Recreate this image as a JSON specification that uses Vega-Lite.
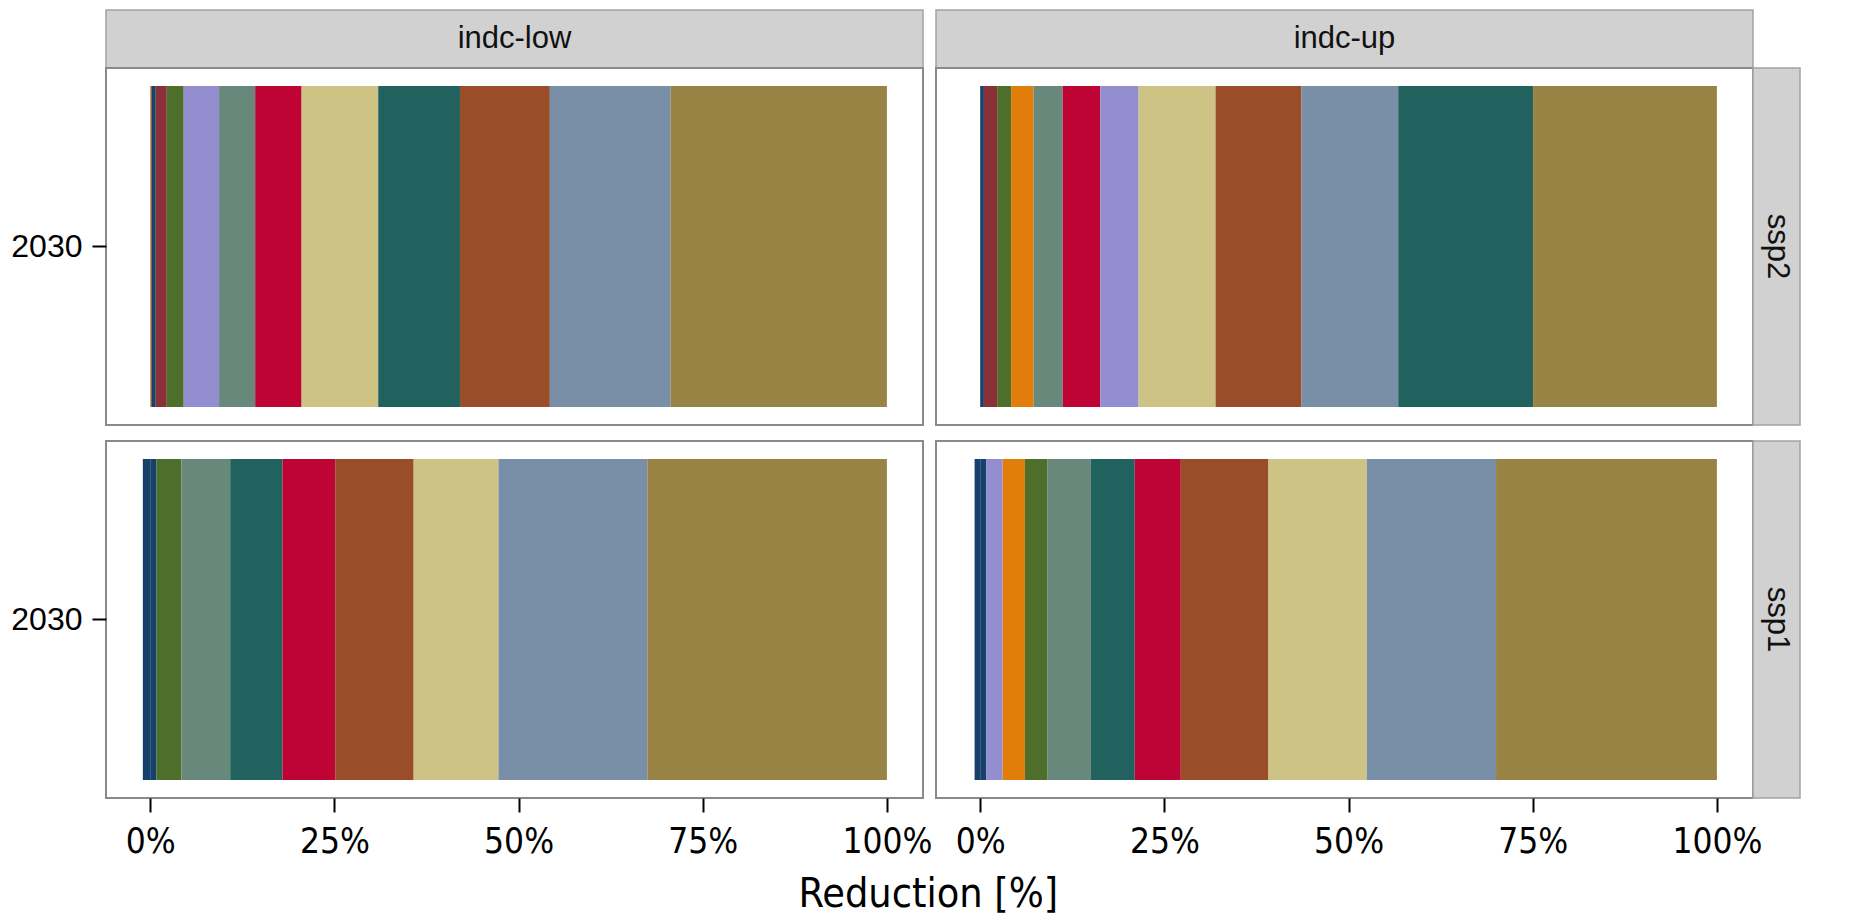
{
  "$schema": "https://vega.github.io/schema/vega-lite/v6.json",
  "background": "white",
  "padding": {"left": 9, "top": 9, "right": 4, "bottom": 4},
  "datasets": {
    "shares": [
      {"scenario": "indc-low", "ssp": "ssp2", "year": "2030", "sector": "s12", "share": 0.15},
      {"scenario": "indc-low", "ssp": "ssp2", "year": "2030", "sector": "s1", "share": 0.6},
      {"scenario": "indc-low", "ssp": "ssp2", "year": "2030", "sector": "s2", "share": 1.5},
      {"scenario": "indc-low", "ssp": "ssp2", "year": "2030", "sector": "s3", "share": 2.3},
      {"scenario": "indc-low", "ssp": "ssp2", "year": "2030", "sector": "s4", "share": 4.8},
      {"scenario": "indc-low", "ssp": "ssp2", "year": "2030", "sector": "s5", "share": 4.9},
      {"scenario": "indc-low", "ssp": "ssp2", "year": "2030", "sector": "s6", "share": 6.3},
      {"scenario": "indc-low", "ssp": "ssp2", "year": "2030", "sector": "s7", "share": 10.4},
      {"scenario": "indc-low", "ssp": "ssp2", "year": "2030", "sector": "s8", "share": 11.1},
      {"scenario": "indc-low", "ssp": "ssp2", "year": "2030", "sector": "s9", "share": 12.2},
      {"scenario": "indc-low", "ssp": "ssp2", "year": "2030", "sector": "s10", "share": 16.4},
      {"scenario": "indc-low", "ssp": "ssp2", "year": "2030", "sector": "s11", "share": 29.35},

      {"scenario": "indc-up", "ssp": "ssp2", "year": "2030", "sector": "s1", "share": 0.5},
      {"scenario": "indc-up", "ssp": "ssp2", "year": "2030", "sector": "s2", "share": 1.8},
      {"scenario": "indc-up", "ssp": "ssp2", "year": "2030", "sector": "s3", "share": 1.9},
      {"scenario": "indc-up", "ssp": "ssp2", "year": "2030", "sector": "s12", "share": 3.05},
      {"scenario": "indc-up", "ssp": "ssp2", "year": "2030", "sector": "s5", "share": 3.95},
      {"scenario": "indc-up", "ssp": "ssp2", "year": "2030", "sector": "s6", "share": 5.1},
      {"scenario": "indc-up", "ssp": "ssp2", "year": "2030", "sector": "s4", "share": 5.2},
      {"scenario": "indc-up", "ssp": "ssp2", "year": "2030", "sector": "s7", "share": 10.45},
      {"scenario": "indc-up", "ssp": "ssp2", "year": "2030", "sector": "s9", "share": 11.67},
      {"scenario": "indc-up", "ssp": "ssp2", "year": "2030", "sector": "s10", "share": 13.12},
      {"scenario": "indc-up", "ssp": "ssp2", "year": "2030", "sector": "s8", "share": 18.31},
      {"scenario": "indc-up", "ssp": "ssp2", "year": "2030", "sector": "s11", "share": 24.95},

      {"scenario": "indc-low", "ssp": "ssp1", "year": "2030", "sector": "s1", "share": -1.0},
      {"scenario": "indc-low", "ssp": "ssp1", "year": "2030", "sector": "s1", "share": 0.86},
      {"scenario": "indc-low", "ssp": "ssp1", "year": "2030", "sector": "s3", "share": 3.38},
      {"scenario": "indc-low", "ssp": "ssp1", "year": "2030", "sector": "s5", "share": 6.62},
      {"scenario": "indc-low", "ssp": "ssp1", "year": "2030", "sector": "s8", "share": 7.1},
      {"scenario": "indc-low", "ssp": "ssp1", "year": "2030", "sector": "s6", "share": 7.15},
      {"scenario": "indc-low", "ssp": "ssp1", "year": "2030", "sector": "s9", "share": 10.65},
      {"scenario": "indc-low", "ssp": "ssp1", "year": "2030", "sector": "s7", "share": 11.51},
      {"scenario": "indc-low", "ssp": "ssp1", "year": "2030", "sector": "s10", "share": 20.21},
      {"scenario": "indc-low", "ssp": "ssp1", "year": "2030", "sector": "s11", "share": 32.52},

      {"scenario": "indc-up", "ssp": "ssp1", "year": "2030", "sector": "s1", "share": -0.76},
      {"scenario": "indc-up", "ssp": "ssp1", "year": "2030", "sector": "s1", "share": 0.84},
      {"scenario": "indc-up", "ssp": "ssp1", "year": "2030", "sector": "s4", "share": 2.21},
      {"scenario": "indc-up", "ssp": "ssp1", "year": "2030", "sector": "s12", "share": 3.02},
      {"scenario": "indc-up", "ssp": "ssp1", "year": "2030", "sector": "s3", "share": 3.08},
      {"scenario": "indc-up", "ssp": "ssp1", "year": "2030", "sector": "s5", "share": 5.88},
      {"scenario": "indc-up", "ssp": "ssp1", "year": "2030", "sector": "s8", "share": 5.95},
      {"scenario": "indc-up", "ssp": "ssp1", "year": "2030", "sector": "s6", "share": 6.25},
      {"scenario": "indc-up", "ssp": "ssp1", "year": "2030", "sector": "s9", "share": 11.9},
      {"scenario": "indc-up", "ssp": "ssp1", "year": "2030", "sector": "s7", "share": 13.35},
      {"scenario": "indc-up", "ssp": "ssp1", "year": "2030", "sector": "s10", "share": 17.54},
      {"scenario": "indc-up", "ssp": "ssp1", "year": "2030", "sector": "s11", "share": 29.98}
    ]
  },
  "title": {
    "text": "Reduction [%]",
    "orient": "bottom",
    "anchor": "middle",
    "dx": 23,
    "offset": 15,
    "font": "Liberation Sans Narrow, DejaVu Sans Condensed, Liberation Sans",
    "fontSize": 41,
    "fontWeight": "normal",
    "color": "#000000"
  },
  "columns": 4,
  "align": "each",
  "bounds": "flush",
  "spacing": 0,
  "concat": [
    {
      "width": 817, "height": 58,
      "data": {"values": [{"label": "indc-low"}]},
      "view": {"fill": "#d1d1d1", "stroke": "#a3a3a3", "strokeWidth": 1.5},
      "mark": {"type": "text", "font": "Liberation Sans", "fontSize": 31, "color": "#111111"},
      "encoding": {"text": {"field": "label"}}
    },
    {"width": 13, "height": 16, "data": {"values": []}, "mark": {"type": "text"}, "encoding": {}, "view": {"stroke": null}},
    {
      "width": 817, "height": 58,
      "data": {"values": [{"label": "indc-up"}]},
      "view": {"fill": "#d1d1d1", "stroke": "#a3a3a3", "strokeWidth": 1.5},
      "mark": {"type": "text", "font": "Liberation Sans", "fontSize": 31, "color": "#111111"},
      "encoding": {"text": {"field": "label"}}
    },
    {"width": 13, "height": 16, "data": {"values": []}, "mark": {"type": "text"}, "encoding": {}, "view": {"stroke": null}},

    {
      "width": 817, "height": 357,
      "data": {"name": "shares"},
      "transform": [{"filter": "datum.scenario == 'indc-low' && datum.ssp == 'ssp2'"}],
      "view": {"stroke": "#8a8a8a", "strokeWidth": 2},
      "mark": {"type": "bar"},
      "encoding": {
        "y": {"field": "year", "type": "nominal", "scale": {"paddingInner": 0, "paddingOuter": 0.056},
              "axis": {"title": null, "domain": false, "ticks": true, "tickSize": 14, "tickWidth": 2, "tickColor": "#000000",
                       "labelFont": "Liberation Sans", "labelFontSize": 32, "labelColor": "#000000", "labelPadding": 10}},
        "x": {"field": "share", "type": "quantitative", "stack": "zero",
              "scale": {"domain": [-6, 104.9], "nice": false, "zero": false}, "axis": null},
        "color": {"field": "sector", "type": "nominal", "legend": null,
                  "scale": {"domain": ["s1","s2","s3","s4","s5","s6","s7","s8","s9","s10","s11","s12"],
                            "range": ["#17406b","#893039","#4e6e2c","#948dd0","#69887c","#bd0434","#ccc385","#22625e","#994e29","#798fa7","#988344","#e07d0b"]}},
        "order": {"field": "share", "type": "quantitative", "sort": "ascending"}
      }
    },
    {"width": 13, "height": 16, "data": {"values": []}, "mark": {"type": "text"}, "encoding": {}, "view": {"stroke": null}},
    {
      "width": 817, "height": 357,
      "data": {"name": "shares"},
      "transform": [{"filter": "datum.scenario == 'indc-up' && datum.ssp == 'ssp2'"}],
      "view": {"stroke": "#8a8a8a", "strokeWidth": 2},
      "mark": {"type": "bar"},
      "encoding": {
        "y": {"field": "year", "type": "nominal", "scale": {"paddingInner": 0, "paddingOuter": 0.056}, "axis": null},
        "x": {"field": "share", "type": "quantitative", "stack": "zero",
              "scale": {"domain": [-6, 104.9], "nice": false, "zero": false}, "axis": null},
        "color": {"field": "sector", "type": "nominal", "legend": null,
                  "scale": {"domain": ["s1","s2","s3","s4","s5","s6","s7","s8","s9","s10","s11","s12"],
                            "range": ["#17406b","#893039","#4e6e2c","#948dd0","#69887c","#bd0434","#ccc385","#22625e","#994e29","#798fa7","#988344","#e07d0b"]}},
        "order": {"field": "share", "type": "quantitative", "sort": "ascending"}
      }
    },
    {
      "width": 47, "height": 357,
      "data": {"values": [{"label": "ssp2"}]},
      "view": {"fill": "#d1d1d1", "stroke": "#a3a3a3", "strokeWidth": 1.5},
      "mark": {"type": "text", "font": "Liberation Sans", "fontSize": 31, "angle": 90, "color": "#111111"},
      "encoding": {"text": {"field": "label"}}
    },

    {"width": 13, "height": 16, "data": {"values": []}, "mark": {"type": "text"}, "encoding": {}, "view": {"stroke": null}},
    {"width": 13, "height": 16, "data": {"values": []}, "mark": {"type": "text"}, "encoding": {}, "view": {"stroke": null}},
    {"width": 13, "height": 16, "data": {"values": []}, "mark": {"type": "text"}, "encoding": {}, "view": {"stroke": null}},
    {"width": 13, "height": 16, "data": {"values": []}, "mark": {"type": "text"}, "encoding": {}, "view": {"stroke": null}},

    {
      "width": 817, "height": 357,
      "data": {"name": "shares"},
      "transform": [{"filter": "datum.scenario == 'indc-low' && datum.ssp == 'ssp1'"}],
      "view": {"stroke": "#8a8a8a", "strokeWidth": 2},
      "mark": {"type": "bar"},
      "encoding": {
        "y": {"field": "year", "type": "nominal", "scale": {"paddingInner": 0, "paddingOuter": 0.056},
              "axis": {"title": null, "domain": false, "ticks": true, "tickSize": 14, "tickWidth": 2, "tickColor": "#000000",
                       "labelFont": "Liberation Sans", "labelFontSize": 32, "labelColor": "#000000", "labelPadding": 10}},
        "x": {"field": "share", "type": "quantitative", "stack": "zero",
              "scale": {"domain": [-6, 104.9], "nice": false, "zero": false},
              "axis": {"title": null, "domain": false, "grid": false, "values": [0, 25, 50, 75, 100],
                       "labelExpr": "datum.value + '%'", "tickSize": 14, "tickWidth": 2, "tickColor": "#000000",
                       "labelFont": "Liberation Sans Narrow, DejaVu Sans Condensed, Liberation Sans",
                       "labelFontSize": 35, "labelColor": "#000000", "labelPadding": 12}},
        "color": {"field": "sector", "type": "nominal", "legend": null,
                  "scale": {"domain": ["s1","s2","s3","s4","s5","s6","s7","s8","s9","s10","s11","s12"],
                            "range": ["#17406b","#893039","#4e6e2c","#948dd0","#69887c","#bd0434","#ccc385","#22625e","#994e29","#798fa7","#988344","#e07d0b"]}},
        "order": {"field": "share", "type": "quantitative", "sort": "ascending"}
      }
    },
    {"width": 13, "height": 16, "data": {"values": []}, "mark": {"type": "text"}, "encoding": {}, "view": {"stroke": null}},
    {
      "width": 817, "height": 357,
      "data": {"name": "shares"},
      "transform": [{"filter": "datum.scenario == 'indc-up' && datum.ssp == 'ssp1'"}],
      "view": {"stroke": "#8a8a8a", "strokeWidth": 2},
      "mark": {"type": "bar"},
      "encoding": {
        "y": {"field": "year", "type": "nominal", "scale": {"paddingInner": 0, "paddingOuter": 0.056}, "axis": null},
        "x": {"field": "share", "type": "quantitative", "stack": "zero",
              "scale": {"domain": [-6, 104.9], "nice": false, "zero": false},
              "axis": {"title": null, "domain": false, "grid": false, "values": [0, 25, 50, 75, 100],
                       "labelExpr": "datum.value + '%'", "tickSize": 14, "tickWidth": 2, "tickColor": "#000000",
                       "labelFont": "Liberation Sans Narrow, DejaVu Sans Condensed, Liberation Sans",
                       "labelFontSize": 35, "labelColor": "#000000", "labelPadding": 12}},
        "color": {"field": "sector", "type": "nominal", "legend": null,
                  "scale": {"domain": ["s1","s2","s3","s4","s5","s6","s7","s8","s9","s10","s11","s12"],
                            "range": ["#17406b","#893039","#4e6e2c","#948dd0","#69887c","#bd0434","#ccc385","#22625e","#994e29","#798fa7","#988344","#e07d0b"]}},
        "order": {"field": "share", "type": "quantitative", "sort": "ascending"}
      }
    },
    {
      "width": 47, "height": 357,
      "data": {"values": [{"label": "ssp1"}]},
      "view": {"fill": "#d1d1d1", "stroke": "#a3a3a3", "strokeWidth": 1.5},
      "mark": {"type": "text", "font": "Liberation Sans", "fontSize": 31, "angle": 90, "color": "#111111"},
      "encoding": {"text": {"field": "label"}}
    }
  ]
}
